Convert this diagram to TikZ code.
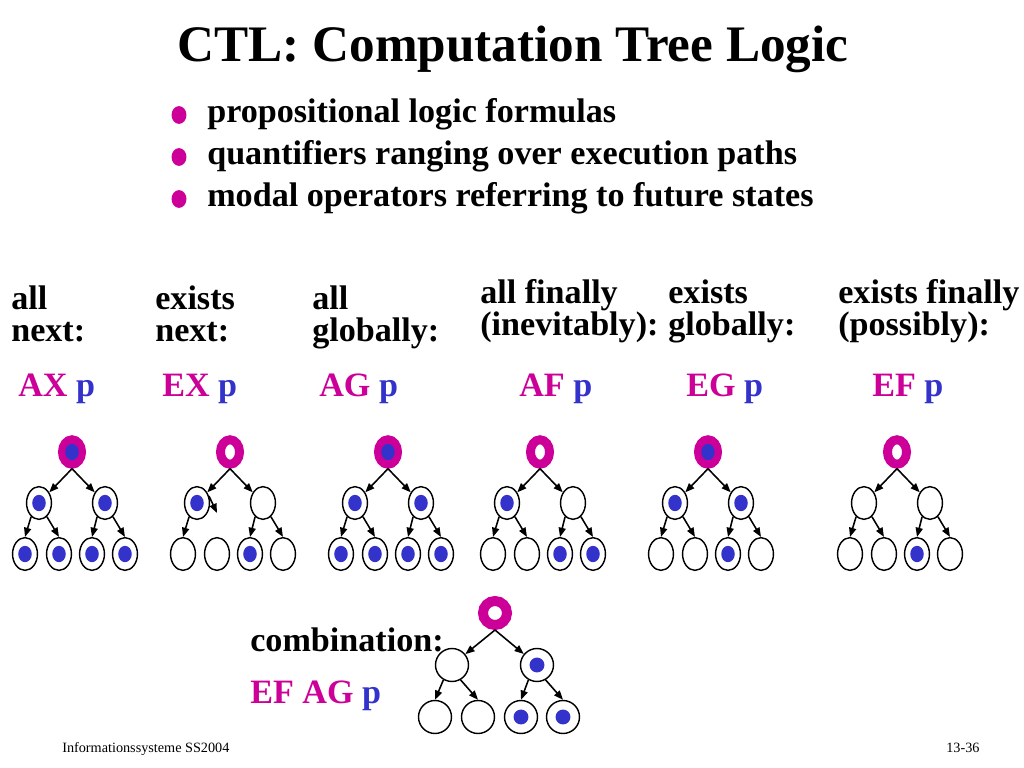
\documentclass[tikz,border=0pt]{standalone}
\usepackage{fontspec}
\setmainfont{Liberation Serif}
\usetikzlibrary{arrows.meta, positioning, shapes.geometric}
\definecolor{CtlMagenta}{HTML}{CC0099}
\definecolor{CtlBlue}{HTML}{3333CC}

\begin{document}
\begin{tikzpicture}[
        x=0.703125pt, y=-0.703125pt,
        title/.style={font=\fontsize{36}{40}\selectfont\bfseries, anchor=base, inner sep=0pt},
        txt/.style={font=\fontsize{24}{22.5}\selectfont\bfseries, anchor=base west,
                    align=left, inner sep=0pt},
        foot/.style={font=\fontsize{10}{12}\selectfont, anchor=base west, inner sep=0pt},
        bullet/.style={ellipse, fill=CtlMagenta, inner sep=0pt,
                       minimum width=10.5pt, minimum height=12.5pt},
        state/.style={ellipse, draw=black, line width=1pt, fill=white, inner sep=0pt,
                      minimum width=17.5pt, minimum height=23pt},
        init/.style={ellipse, draw=CtlMagenta, line width=6.3pt, fill=white, inner sep=0pt,
                     minimum width=13.4pt, minimum height=17.2pt},
        cstate/.style={circle, draw=black, line width=1pt, fill=white, inner sep=0pt,
                       minimum size=23.2pt},
        cinit/.style={circle, draw=CtlMagenta, line width=7pt, fill=white, inner sep=0pt,
                      minimum size=16.9pt},
        dot/.style={ellipse, fill=CtlBlue, inner sep=0pt,
                    minimum width=9.5pt, minimum height=11.5pt},
        cdot/.style={circle, fill=CtlBlue, inner sep=0pt, minimum size=10.5pt},
        hit/.style={label={[dot]center:}},
        chit/.style={label={[cdot]center:}},
        none/.style={},
        edge/.style={-{Triangle[length=6.5pt, width=5pt]}, line width=1.1pt},
      ]
        \useasboundingbox (0,0) rectangle (1024,768);

        \node[title] (title) at (513,62) {CTL: Computation Tree Logic};

        \node[bullet] (b1) at (179,115) {};
        \node[bullet] (b2) at (179,157) {};
        \node[bullet] (b3) at (179,199) {};
        \node[txt] (t1) at (207,123) {propositional logic formulas};
        \node[txt] (t2) at (207,165) {quantifiers ranging over execution paths};
        \node[txt] (t3) at (207,207) {modal operators referring to future states};

        % operator names (anchored at the baseline of the second line)
        \node[txt] (nax) at (11,342)  {all\\next:};
        \node[txt] (nex) at (155,342) {exists\\next:};
        \node[txt] (nag) at (312,342) {all\\globally:};
        \node[txt] (naf) at (480,336) {all finally\\(inevitably):};
        \node[txt] (neg) at (668,336) {exists\\globally:};
        \node[txt] (nef) at (838,336) {exists finally\\(possibly):};

        \node[txt] (fax) at (18,396)  {{\color{CtlMagenta}AX} {\color{CtlBlue}p}};
        \node[txt] (fex) at (162,396) {{\color{CtlMagenta}EX} {\color{CtlBlue}p}};
        \node[txt] (fag) at (319,396) {{\color{CtlMagenta}AG} {\color{CtlBlue}p}};
        \node[txt] (faf) at (519,396) {{\color{CtlMagenta}AF} {\color{CtlBlue}p}};
        \node[txt] (feg) at (686,396) {{\color{CtlMagenta}EG} {\color{CtlBlue}p}};
        \node[txt] (fef) at (872,396) {{\color{CtlMagenta}EF} {\color{CtlBlue}p}};

        % trees: root x / name / styles of root, middle and leaf states
        \foreach \x/\n/\r/\ma/\mb/\la/\lb/\lc/\ld in {
            72/ax/hit/hit/hit/hit/hit/hit/hit,
            230/ex/none/hit/none/none/none/hit/none,
            388/ag/hit/hit/hit/hit/hit/hit/hit,
            540/af/none/hit/none/none/none/hit/hit,
            708/eg/hit/hit/hit/none/none/hit/none,
            897/ef/none/none/none/none/none/hit/none}{
          \node[init, \r]   (\n-r)  at (\x,452)    {};
          \node[state, \ma] (\n-m1) at (\x-33,503) {};
          \node[state, \mb] (\n-m2) at (\x+33,503) {};
          \node[state, \la] (\n-l1) at (\x-47,554) {};
          \node[state, \lb] (\n-l2) at (\x-13,554) {};
          \node[state, \lc] (\n-l3) at (\x+20,554) {};
          \node[state, \ld] (\n-l4) at (\x+53,554) {};
          \draw[edge] (\n-r.south) -- (\n-m1);
          \draw[edge] (\n-r.south) -- (\n-m2);
          \draw[edge] (\n-m1.240)  -- (\n-l1.north);
          \draw[edge] (\n-m2.240)  -- (\n-l3.north);
          \draw[edge] (\n-m2.300)  -- (\n-l4.north);
        }
        \foreach \n in {ax,ag,af,eg,ef}
          \draw[edge] (\n-m1.300) -- (\n-l2.north);
        \coordinate (ex-stub) at (217,513);
        \draw[edge] (ex-m1.30) -- (ex-stub);

        % combination
        \node[txt] (comb)  at (250,651) {combination:};
        \node[txt] (fcomb) at (250,703) {{\color{CtlMagenta}EF AG} {\color{CtlBlue}p}};
        \node[cinit]        (c-r)  at (495,613) {};
        \node[cstate]       (c-m1) at (452,665) {};
        \node[cstate, chit] (c-m2) at (537,665) {};
        \node[cstate]       (c-l1) at (435,717) {};
        \node[cstate]       (c-l2) at (478,717) {};
        \node[cstate, chit] (c-l3) at (521,717) {};
        \node[cstate, chit] (c-l4) at (563,717) {};
        \draw[edge] (c-r.south) -- (c-m1);
        \draw[edge] (c-r.south) -- (c-m2);
        \draw[edge] (c-m1.240)  -- (c-l1.north);
        \draw[edge] (c-m1.300)  -- (c-l2.north);
        \draw[edge] (c-m2.240)  -- (c-l3.north);
        \draw[edge] (c-m2.300)  -- (c-l4.north);

        \node[foot] (f1) at (62,752)  {Informationssysteme SS2004};
        \node[foot] (f2) at (946,752) {13-36};
      \end{tikzpicture}
\end{document}
